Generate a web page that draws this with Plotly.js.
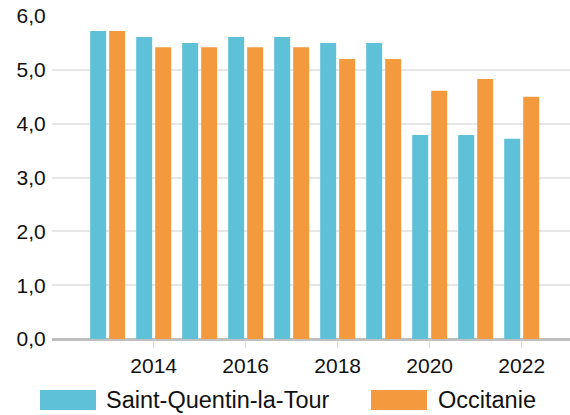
<!DOCTYPE html>
<html>
<head>
<meta charset="utf-8">
<script src="https://cdn.plot.ly/plotly-3.0.1.min.js"></script>
<style>html,body{margin:0;padding:0;background:#fff;}#chart{width:570px;height:415px;}</style>
</head>
<body>
<div id="chart"></div>
<script>
const years = [2013, 2014, 2015, 2016, 2017, 2018, 2019, 2020, 2021, 2022];
const seriesNames = ["Saint-Quentin-la-Tour", "Occitanie"];
const saintQuentin = [5.72, 5.61, 5.50, 5.61, 5.61, 5.50, 5.50, 3.79, 3.79, 3.72];
const occitanie = [5.72, 5.42, 5.42, 5.42, 5.42, 5.20, 5.20, 4.61, 4.83, 4.50];
const xTicks = [2014, 2016, 2018, 2020, 2022];
const yTicks = [0, 1, 2, 3, 4, 5, 6];
const colors = ["#5ec1d8", "#f49a3e"];

const W = 570, H = 415;
const M = {l: 52, r: 0, t: 16, b: 76};
const pw = W - M.l - M.r, ph = H - M.t - M.b;
const px2x = p => (p - M.l) / pw;
const py2y = p => (H - M.b - p) / ph;

const traces = [
  {type: "bar", x: years, y: saintQuentin, name: seriesNames[0], marker: {color: colors[0]}, hoverinfo: "x+y"},
  {type: "bar", x: years, y: occitanie, name: seriesNames[1], marker: {color: colors[1]}, hoverinfo: "x+y"}
];

const legendSwatches = [[40, 96, 104], [371, 427, 436]];
const shapes = [], annotations = [];
seriesNames.forEach((n, i) => {
  const s = legendSwatches[i];
  shapes.push({type: "rect", xref: "paper", yref: "paper", x0: px2x(s[0]), x1: px2x(s[1]), y0: py2y(410), y1: py2y(390), fillcolor: colors[i], line: {width: 0}});
  annotations.push({xref: "paper", yref: "paper", x: px2x(s[2]), y: py2y(400), xanchor: "left", yanchor: "middle", text: n, showarrow: false, font: {size: 23.5, color: "#111"}});
});

const layout = {
  width: W, height: H,
  margin: M,
  paper_bgcolor: "#fff", plot_bgcolor: "#fff",
  font: {family: "Liberation Sans, Arial, sans-serif", size: 21, color: "#111"},
  barmode: "group",
  bargap: 0.174,
  bargroupgap: 0.158,
  showlegend: false,
  separators: ", ",
  xaxis: {
    range: [2011.79, 2023.05],
    tickvals: xTicks,
    ticktext: xTicks.map(String),
    ticks: "outside", ticklen: 8, tickwidth: 1.5, tickcolor: "#d9d9d9",
    showgrid: false, zeroline: false, showline: false,
    tickfont: {size: 21}
  },
  yaxis: {
    range: [0, 6],
    tickvals: yTicks,
    tickformat: ".1f",
    ticks: "outside", ticklen: 1, tickcolor: "rgba(0,0,0,0)",
    showgrid: true, gridcolor: "#e6e6e6", gridwidth: 2,
    zeroline: true, zerolinecolor: "#bfbfbf", zerolinewidth: 3,
    showline: false,
    tickfont: {size: 21}
  },
  shapes: shapes,
  annotations: annotations
};

Plotly.newPlot("chart", traces, layout, {displayModeBar: false, staticPlot: true});
</script>
</body>
</html>
